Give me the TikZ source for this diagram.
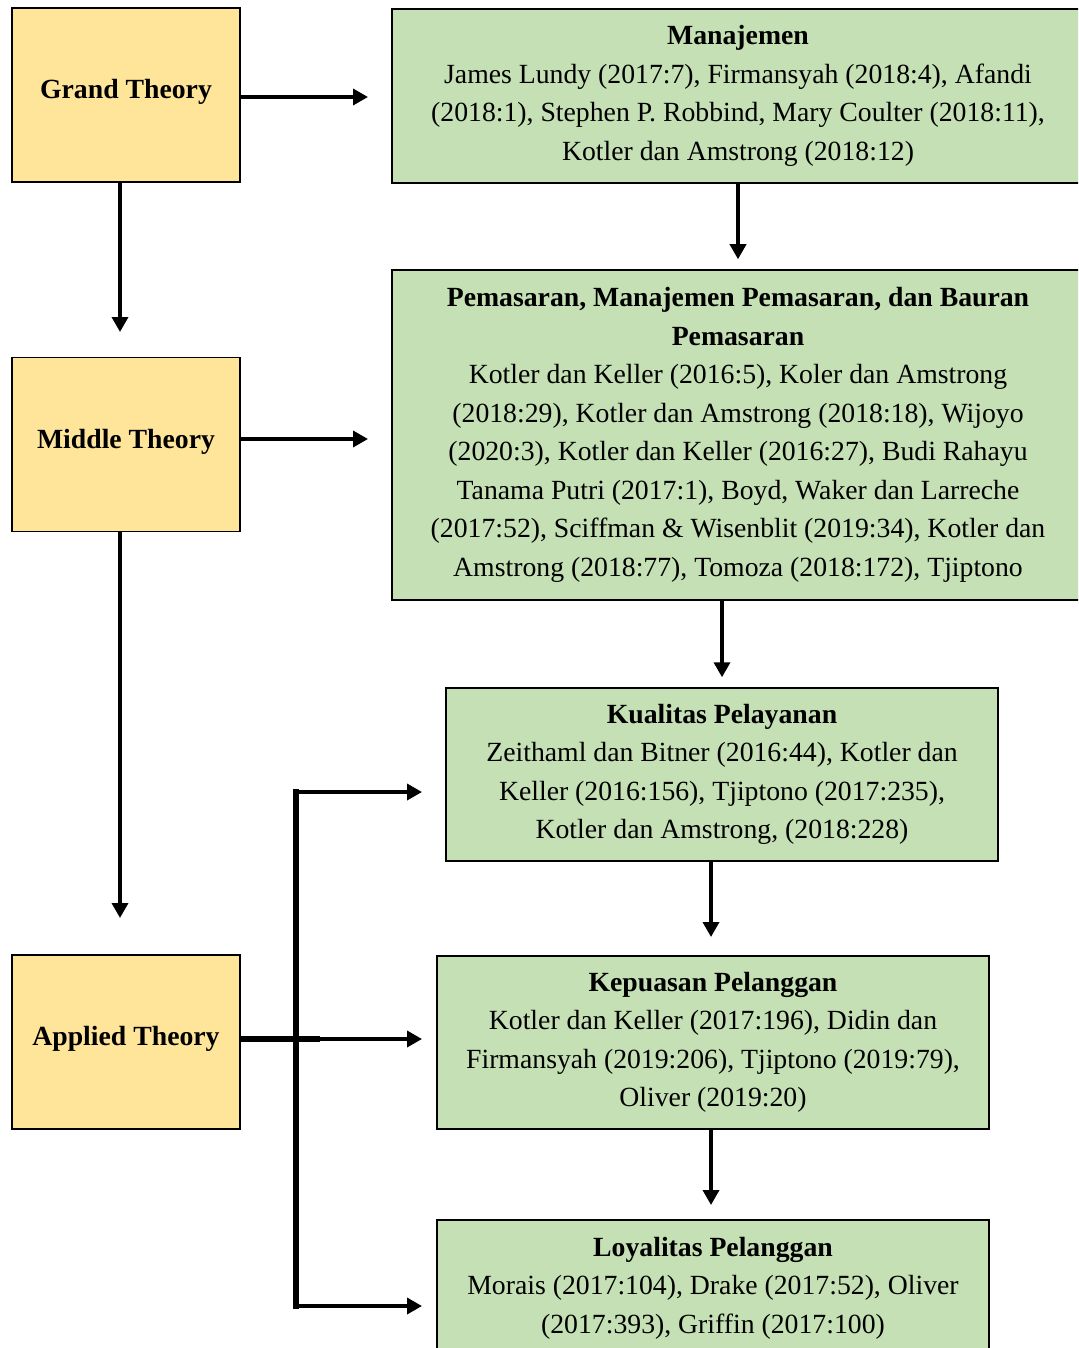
\documentclass[tikz,border=0pt]{standalone}
\usepackage{fontspec}
\setmainfont{Liberation Serif}
\usetikzlibrary{arrows.meta}
\def\px{0.75pt}
\definecolor{yel}{HTML}{FFE599}
\definecolor{grn}{HTML}{C5E0B4}
\tikzset{
  base/.style={draw=black, line width=1.5*\px, align=center, inner sep=0pt,
    font=\fontsize{20.8}{28.9}\selectfont},
  theory/.style={base, fill=yel, minimum width=228*\px, minimum height=174*\px},
  tlabel/.style={font=\fontsize{20.8}{28.9}\selectfont\bfseries, inner sep=0pt, yshift=3*\px},
  topic/.style={base, fill=grn},
  arr/.style={line width=3.5*\px, -{Triangle[length=15*\px, width=16*\px]}},
  thickline/.style={line width=6*\px},
}
\begin{document}
\begin{tikzpicture}[x=0.75pt, y=-0.75pt]
\useasboundingbox (0,0) rectangle (1078,1348);
\clip (0,0) rectangle (1078,1348);
\fill[white] (0,0) rectangle (1078,1348);
% left column
\node[theory, label={[tlabel]center:Grand Theory}] (grand) at (126,95) {};
\node[theory, label={[tlabel]center:Middle Theory}] (middle) at (126,444.5) {};
\node[theory, label={[tlabel]center:Applied Theory}] (applied) at (126,1042) {};
% right column
\node[topic, minimum width=692*\px, minimum height=174*\px] (man) at (738,96)
  {\textbf{Manajemen}\\James Lundy (2017:7), Firmansyah (2018:4), Afandi\\(2018:1), Stephen P. Robbind, Mary Coulter (2018:11),\\Kotler dan Amstrong (2018:12)};
\node[topic, minimum width=692*\px, minimum height=330*\px] (pem) at (738,435)
  {\textbf{Pemasaran, Manajemen Pemasaran, dan Bauran}\\\textbf{Pemasaran}\\Kotler dan Keller (2016:5), Koler dan Amstrong\\(2018:29), Kotler dan Amstrong (2018:18), Wijoyo\\(2020:3), Kotler dan Keller (2016:27), Budi Rahayu\\Tanama Putri (2017:1), Boyd, Waker dan Larreche\\(2017:52), Sciffman \& Wisenblit (2019:34), Kotler dan\\Amstrong (2018:77), Tomoza (2018:172), Tjiptono};
\node[topic, minimum width=552*\px, minimum height=173*\px] (kual) at (722,774.5)
  {\textbf{Kualitas Pelayanan}\\Zeithaml dan Bitner (2016:44), Kotler dan\\Keller (2016:156), Tjiptono (2017:235),\\Kotler dan Amstrong, (2018:228)};
\node[topic, minimum width=552*\px, minimum height=173*\px] (kep) at (713,1042.5)
  {\textbf{Kepuasan Pelanggan}\\Kotler dan Keller (2017:196), Didin dan\\Firmansyah (2019:206), Tjiptono (2019:79),\\Oliver (2019:20)};
\node[topic, minimum width=552*\px, minimum height=136*\px] (loy) at (713,1288)
  {\textbf{Loyalitas Pelanggan}\\Morais (2017:104), Drake (2017:52), Oliver\\(2017:393), Griffin (2017:100)};
% coordinates for free ends
\coordinate (gm) at (368,97);
\coordinate (mp) at (368,439);
\coordinate (gd) at (120,332);
\coordinate (md) at (120,918);
\coordinate (bartop) at (296,792);
\coordinate (barbot) at (296,1306);
\coordinate (barmid) at (296,1039);
\coordinate (stub) at (320,1039);
\coordinate (tk) at (422,792);
\coordinate (tkp) at (422,1039);
\coordinate (tl) at (422,1306);
% arrows
\draw[arr] (grand.east |- gm) -- (gm);
\draw[arr] (middle.east |- mp) -- (mp);
\draw[arr] (grand.south -| gd) -- (gd);
\draw[arr] (middle.south -| md) -- (md);
\draw[arr] (man.south) -- ([yshift=10*\px]pem.north);
\draw[arr] (pem.south -| kual.north) -- ([yshift=10*\px]kual.north);
\draw[arr] (kual.south -| 711,0) -- (711,937);
\draw[arr] (kep.south -| 711,0) -- (711,1205);
% applied theory connector
\draw[thickline] (applied.east |- stub) -- (stub);
\draw[thickline, line cap=rect] (bartop) -- (barbot);
\draw[arr] (bartop) -- (tk);
\draw[arr] (barmid) -- (tkp);
\draw[arr] (barbot) -- (tl);
\end{tikzpicture}
\end{document}
